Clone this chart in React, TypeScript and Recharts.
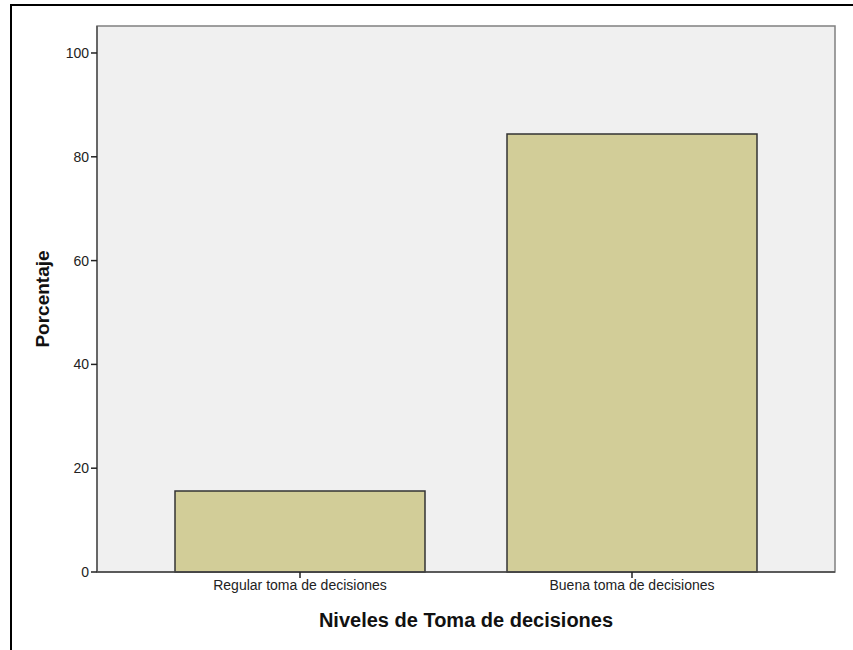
import React from "react";
import { BarChart, Bar, XAxis, YAxis, CartesianGrid, ReferenceArea } from "recharts";

const categories = ["Regular toma de decisiones", "Buena toma de decisiones"];
const percentages = [15.6, 84.4];
const yTicks = [0, 20, 40, 60, 80, 100];
const yMax = 105.2;

const data = categories.map((name, i) => ({ name, value: percentages[i] }));

const FONT = "'Liberation Sans', Arial, sans-serif";

export default function App() {
  return (
    <div style={{ position: "absolute", left: 0, top: 0, width: 853, height: 650, background: "#fff", overflow: "hidden" }}>
      <div
        style={{
          position: "absolute",
          left: 10,
          top: 4,
          width: 900,
          height: 700,
          borderLeft: "2px solid #000",
          borderTop: "2px solid #000",
        }}
      />
      <div style={{ position: "absolute", left: 0, top: 0 }}>
        <BarChart
          width={853}
          height={650}
          data={data}
          margin={{ top: 26, right: 18, left: 0, bottom: 0 }}
          barSize={250}
        >
          <CartesianGrid horizontal={false} vertical={false} fill="#f0f0f0" />
          <XAxis xAxisId="frame" type="number" domain={[0, 1]} height={0} hide />
          <ReferenceArea
            xAxisId="frame"
            yAxisId="left"
            x1={0}
            x2={1}
            y1={0}
            y2={yMax}
            fill="none"
            stroke="#808080"
            strokeWidth={1.5}
            ifOverflow="visible"
          />
          <XAxis
            dataKey="name"
            xAxisId="main"
            height={78}
            padding={{ left: 37, right: 37 }}
            axisLine={{ stroke: "#444", strokeWidth: 1.5 }}
            tickLine={{ stroke: "#222", strokeWidth: 1.5 }}
            tickSize={6}
            tick={{ fill: "#222", fontSize: 14, fontFamily: FONT }}
            label={{
              value: "Niveles de Toma de decisiones",
              position: "insideBottom",
              offset: 23,
              style: { fill: "#111", fontSize: 20, fontWeight: "bold", fontFamily: FONT },
            }}
          />
          <YAxis
            yAxisId="left"
            width={97}
            domain={[0, yMax]}
            ticks={yTicks}
            interval={0}
            axisLine={{ stroke: "#555", strokeWidth: 1.5 }}
            tickLine={{ stroke: "#222", strokeWidth: 1.5 }}
            tickSize={6}
            tick={{ fill: "#222", fontSize: 14, fontFamily: FONT }}
            label={{
              value: "Porcentaje",
              angle: -90,
              position: "insideLeft",
              offset: 42,
              style: { fill: "#111", fontSize: 19, fontWeight: "bold", fontFamily: FONT, textAnchor: "middle" },
            }}
          />
          <Bar
            dataKey="value"
            xAxisId="main"
            yAxisId="left"
            fill="#d2cd98"
            stroke="#333"
            strokeWidth={1.5}
            isAnimationActive={false}
          />
        </BarChart>
      </div>
    </div>
  );
}
